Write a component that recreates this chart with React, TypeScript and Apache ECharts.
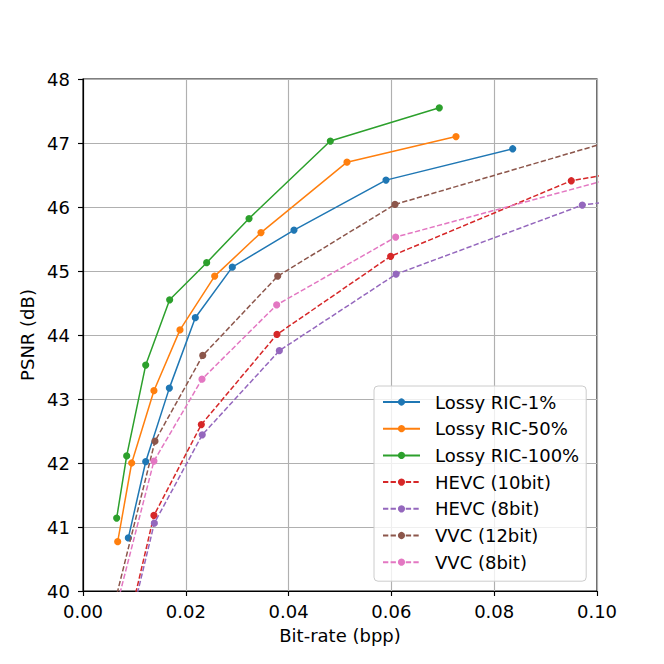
import React, { useEffect, useRef } from "react";
import * as echarts from "echarts";

const seriesNames = [
  "Lossy RIC-1%",
  "Lossy RIC-50%",
  "Lossy RIC-100%",
  "HEVC (10bit)",
  "HEVC (8bit)",
  "VVC (12bit)",
  "VVC (8bit)",
];
const seriesColors = ["#1f77b4", "#ff7f0e", "#2ca02c", "#d62728", "#9467bd", "#8c564b", "#e377c2"];
const seriesDashed = [false, false, false, true, true, true, true];

const ric1Rate = [0.00882, 0.0122, 0.0168, 0.02185, 0.02905, 0.04105, 0.05895, 0.0836];
const ric1Psnr = [40.83, 42.02, 43.17, 44.27, 45.06, 45.64, 46.42, 46.91];

const ric50Rate = [0.00675, 0.00947, 0.0138, 0.01887, 0.02562, 0.03463, 0.05136, 0.07257];
const ric50Psnr = [40.77, 42.0, 43.13, 44.08, 44.92, 45.6, 46.7, 47.1];

const ric100Rate = [0.00655, 0.0085, 0.0122, 0.01686, 0.02406, 0.0323, 0.04812, 0.06932];
const ric100Psnr = [41.14, 42.11, 43.53, 44.55, 45.13, 45.82, 47.03, 47.55];

const hevc10Rate = [0.0089, 0.0138, 0.02302, 0.03774, 0.05986, 0.095, 0.13];
const hevc10Psnr = [39.5, 41.18, 42.6, 44.01, 45.23, 46.41, 46.9];

const hevc8Rate = [0.0092, 0.01388, 0.0232, 0.0382, 0.0609, 0.09714, 0.13];
const hevc8Psnr = [39.5, 41.06, 42.44, 43.755, 44.95, 46.03, 46.37];

const vvc12Rate = [0.0052, 0.014, 0.0233, 0.03788, 0.0607, 0.11];
const vvc12Psnr = [39.5, 42.34, 43.68, 44.92, 46.04, 47.2];

const vvc8Rate = [0.0057, 0.0138, 0.02315, 0.03768, 0.06083, 0.11];
const vvc8Psnr = [39.5, 42.03, 43.31, 44.47, 45.53, 46.6];

const seriesRates = [ric1Rate, ric50Rate, ric100Rate, hevc10Rate, hevc8Rate, vvc12Rate, vvc8Rate];
const seriesPsnrs = [ric1Psnr, ric50Psnr, ric100Psnr, hevc10Psnr, hevc8Psnr, vvc12Psnr, vvc8Psnr];

const FONT = "DejaVu Sans";
const FS = 18;

export default function App() {
  const ref = useRef<HTMLDivElement>(null);
  useEffect(() => {
    const chart = echarts.init(ref.current!, null, { renderer: "svg" });
    const series = seriesNames.map((name, i) => ({
      name,
      type: "line",
      data: seriesRates[i].map((x, j) => [x, seriesPsnrs[i][j]]),
      symbol: "circle",
      symbolSize: 7.2,
      clip: true,
      lineStyle: {
        width: 1.5,
        color: seriesColors[i],
        type: seriesDashed[i] ? [5.3, 2.3] : "solid",
      },
      itemStyle: { color: seriesColors[i] },
      emphasis: { disabled: true },
      z: 2 + i,
    }));
    chart.setOption({
      animation: false,
      backgroundColor: "#ffffff",
      textStyle: { fontFamily: FONT },
      grid: {
        left: 83,
        top: 79,
        width: 514,
        height: 512,
        show: true,
        borderColor: "#000000",
        borderWidth: 1.15,
        backgroundColor: "transparent",
      },
      xAxis: {
        type: "value",
        min: 0,
        max: 0.1,
        interval: 0.02,
        name: "Bit-rate (bpp)",
        nameLocation: "middle",
        nameGap: 35,
        nameTextStyle: { fontFamily: FONT, fontSize: FS, color: "#000" },
        axisLine: { show: true, lineStyle: { color: "#000", width: 1.15 } },
        axisTick: { show: true, inside: false, length: 5, lineStyle: { color: "#000", width: 1.15 } },
        axisLabel: {
          fontFamily: FONT,
          fontSize: FS,
          color: "#000",
          margin: 11,
          formatter: (v: number) => v.toFixed(2),
        },
        splitLine: { show: true, lineStyle: { color: "#b0b0b0", width: 1.15 } },
      },
      yAxis: {
        type: "value",
        min: 40,
        max: 48,
        interval: 1,
        name: "PSNR (dB)",
        nameLocation: "middle",
        nameGap: 43,
        nameTextStyle: { fontFamily: FONT, fontSize: FS, color: "#000" },
        axisLine: { show: true, lineStyle: { color: "#000", width: 1.15 } },
        axisTick: { show: true, inside: false, length: 5, lineStyle: { color: "#000", width: 1.15 } },
        axisLabel: {
          fontFamily: FONT,
          fontSize: FS,
          color: "#000",
          margin: 13,
          formatter: (v: number) => String(Math.round(v)),
        },
        splitLine: { show: true, lineStyle: { color: "#b0b0b0", width: 1.15 } },
      },
      legend: {
        show: true,
        orient: "vertical",
        left: 374,
        top: 386,
        data: seriesNames,
        itemWidth: 37,
        itemHeight: 9,
        itemGap: 6.7,
        padding: [6, 7, 9, 8],
        backgroundColor: "rgba(255,255,255,0.8)",
        borderColor: "#cccccc",
        borderWidth: 1,
        borderRadius: 4,
        selectedMode: false,
        textStyle: {
          fontFamily: FONT,
          fontSize: FS,
          color: "#000",
          lineHeight: 20,
          padding: [0, 0, 0, 10],
        },
      },
      series,
    });
    return () => chart.dispose();
  }, []);
  return (
    <div
      ref={ref}
      style={{ position: "fixed", left: 0, top: 0, width: 664, height: 664, background: "#fff" }}
    />
  );
}
